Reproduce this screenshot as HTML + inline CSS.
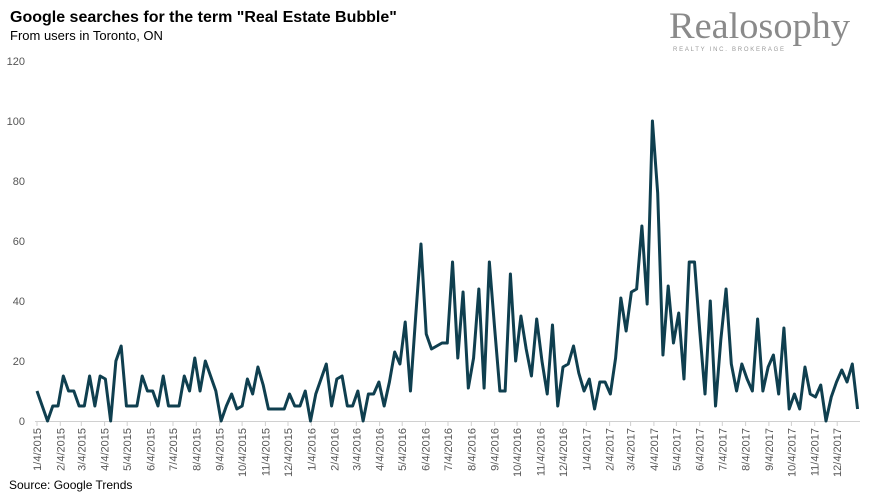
<!DOCTYPE html>
<html><head><meta charset="utf-8"><style>
body{margin:0;background:#fff;}
svg{display:block;font-family:"Liberation Sans",sans-serif;}
</style></head><body>
<svg width="872" height="493" viewBox="0 0 872 493" xmlns="http://www.w3.org/2000/svg">
<rect width="872" height="493" fill="#fff"/>
<text x="10" y="22" font-size="16" font-weight="bold" fill="#000">Google searches for the term "Real Estate Bubble"</text>
<text x="10" y="40" font-size="13" fill="#000">From users in Toronto, ON</text>
<text x="669" y="38" font-size="37" font-family="Liberation Serif,serif" fill="#8a8a8a" textLength="181" lengthAdjust="spacingAndGlyphs">Realosophy</text>
<text x="673" y="51" font-size="6" fill="#9a9a9a" textLength="111" lengthAdjust="spacing">REALTY INC. BROKERAGE</text>
<g font-size="11" fill="#555" text-anchor="end">
<text x="25" y="425">0</text><text x="25" y="365">20</text><text x="25" y="305">40</text><text x="25" y="245">60</text><text x="25" y="185">80</text><text x="25" y="125">100</text><text x="25" y="65">120</text>
</g>
<line x1="35" y1="421.5" x2="860" y2="421.5" stroke="#d0d0d0" stroke-width="1"/>
<g stroke="#d0d0d0" stroke-width="1">
<line x1="37" y1="421" x2="37" y2="426"/><line x1="60.3" y1="421" x2="60.3" y2="426"/><line x1="81.3" y1="421" x2="81.3" y2="426"/><line x1="104.6" y1="421" x2="104.6" y2="426"/><line x1="127.2" y1="421" x2="127.2" y2="426"/><line x1="150.5" y1="421" x2="150.5" y2="426"/><line x1="173" y1="421" x2="173" y2="426"/><line x1="196.3" y1="421" x2="196.3" y2="426"/><line x1="219.6" y1="421" x2="219.6" y2="426"/><line x1="242.1" y1="421" x2="242.1" y2="426"/><line x1="265.4" y1="421" x2="265.4" y2="426"/><line x1="288" y1="421" x2="288" y2="426"/><line x1="311.3" y1="421" x2="311.3" y2="426"/><line x1="334.6" y1="421" x2="334.6" y2="426"/><line x1="356.3" y1="421" x2="356.3" y2="426"/><line x1="379.6" y1="421" x2="379.6" y2="426"/><line x1="402.2" y1="421" x2="402.2" y2="426"/><line x1="425.5" y1="421" x2="425.5" y2="426"/><line x1="448" y1="421" x2="448" y2="426"/><line x1="471.3" y1="421" x2="471.3" y2="426"/><line x1="494.6" y1="421" x2="494.6" y2="426"/><line x1="517.1" y1="421" x2="517.1" y2="426"/><line x1="540.4" y1="421" x2="540.4" y2="426"/><line x1="563" y1="421" x2="563" y2="426"/><line x1="586.3" y1="421" x2="586.3" y2="426"/><line x1="609.6" y1="421" x2="609.6" y2="426"/><line x1="630.6" y1="421" x2="630.6" y2="426"/><line x1="653.9" y1="421" x2="653.9" y2="426"/><line x1="676.4" y1="421" x2="676.4" y2="426"/><line x1="699.7" y1="421" x2="699.7" y2="426"/><line x1="722.3" y1="421" x2="722.3" y2="426"/><line x1="745.6" y1="421" x2="745.6" y2="426"/><line x1="768.9" y1="421" x2="768.9" y2="426"/><line x1="791.4" y1="421" x2="791.4" y2="426"/><line x1="814.7" y1="421" x2="814.7" y2="426"/><line x1="837.2" y1="421" x2="837.2" y2="426"/>
</g>
<g font-size="11" fill="#555" text-anchor="end">
<text transform="translate(41,428) rotate(-90)">1/4/2015</text>
<text transform="translate(64.3,428) rotate(-90)">2/4/2015</text>
<text transform="translate(85.3,428) rotate(-90)">3/4/2015</text>
<text transform="translate(108.6,428) rotate(-90)">4/4/2015</text>
<text transform="translate(131.2,428) rotate(-90)">5/4/2015</text>
<text transform="translate(154.5,428) rotate(-90)">6/4/2015</text>
<text transform="translate(177,428) rotate(-90)">7/4/2015</text>
<text transform="translate(200.3,428) rotate(-90)">8/4/2015</text>
<text transform="translate(223.6,428) rotate(-90)">9/4/2015</text>
<text transform="translate(246.1,428) rotate(-90)">10/4/2015</text>
<text transform="translate(269.4,428) rotate(-90)">11/4/2015</text>
<text transform="translate(292,428) rotate(-90)">12/4/2015</text>
<text transform="translate(315.3,428) rotate(-90)">1/4/2016</text>
<text transform="translate(338.6,428) rotate(-90)">2/4/2016</text>
<text transform="translate(360.3,428) rotate(-90)">3/4/2016</text>
<text transform="translate(383.6,428) rotate(-90)">4/4/2016</text>
<text transform="translate(406.2,428) rotate(-90)">5/4/2016</text>
<text transform="translate(429.5,428) rotate(-90)">6/4/2016</text>
<text transform="translate(452,428) rotate(-90)">7/4/2016</text>
<text transform="translate(475.3,428) rotate(-90)">8/4/2016</text>
<text transform="translate(498.6,428) rotate(-90)">9/4/2016</text>
<text transform="translate(521.1,428) rotate(-90)">10/4/2016</text>
<text transform="translate(544.4,428) rotate(-90)">11/4/2016</text>
<text transform="translate(567,428) rotate(-90)">12/4/2016</text>
<text transform="translate(590.3,428) rotate(-90)">1/4/2017</text>
<text transform="translate(613.6,428) rotate(-90)">2/4/2017</text>
<text transform="translate(634.6,428) rotate(-90)">3/4/2017</text>
<text transform="translate(657.9,428) rotate(-90)">4/4/2017</text>
<text transform="translate(680.4,428) rotate(-90)">5/4/2017</text>
<text transform="translate(703.7,428) rotate(-90)">6/4/2017</text>
<text transform="translate(726.3,428) rotate(-90)">7/4/2017</text>
<text transform="translate(749.6,428) rotate(-90)">8/4/2017</text>
<text transform="translate(772.9,428) rotate(-90)">9/4/2017</text>
<text transform="translate(795.4,428) rotate(-90)">10/4/2017</text>
<text transform="translate(818.7,428) rotate(-90)">11/4/2017</text>
<text transform="translate(841.2,428) rotate(-90)">12/4/2017</text>
</g>
<g transform="translate(37,421) scale(5.26,-3)">
<polyline fill="none" stroke="#0f3f4f" stroke-width="3" stroke-linejoin="round" vector-effect="non-scaling-stroke" points="0,10 1,5 2,0 3,5 4,5 5,15 6,10 7,10 8,5 9,5 10,15 11,5 12,15 13,14 14,0 15,20 16,25 17,5 18,5 19,5 20,15 21,10 22,10 23,5 24,15 25,5 26,5 27,5 28,15 29,10 30,21 31,10 32,20 33,15 34,10 35,0 36,5 37,9 38,4 39,5 40,14 41,9 42,18 43,12 44,4 45,4 46,4 47,4 48,9 49,5 50,5 51,10 52,0 53,9 54,14 55,19 56,5 57,14 58,15 59,5 60,5 61,10 62,0 63,9 64,9 65,13 66,5 67,13 68,23 69,19 70,33 71,10 72,35 73,59 74,29 75,24 76,25 77,26 78,26 79,53 80,21 81,43 82,11 83,21 84,44 85,11 86,53 87,31 88,10 89,10 90,49 91,20 92,35 93,24 94,15 95,34 96,20 97,9 98,32 99,5 100,18 101,19 102,25 103,16 104,10 105,14 106,4 107,13 108,13 109,9 110,21 111,41 112,30 113,43 114,44 115,65 116,39 117,100 118,76 119,22 120,45 121,26 122,36 123,14 124,53 125,53 126,30 127,9 128,40 129,5 130,27 131,44 132,19 133,10 134,19 135,14 136,10 137,34 138,10 139,18 140,22 141,9 142,31 143,4 144,9 145,4 146,18 147,9 148,8 149,12 150,0 151,8 152,13 153,17 154,13 155,19 156,4"/>
</g>
<text x="9" y="489" font-size="12" fill="#000">Source: Google Trends</text>
</svg>
</body></html>
